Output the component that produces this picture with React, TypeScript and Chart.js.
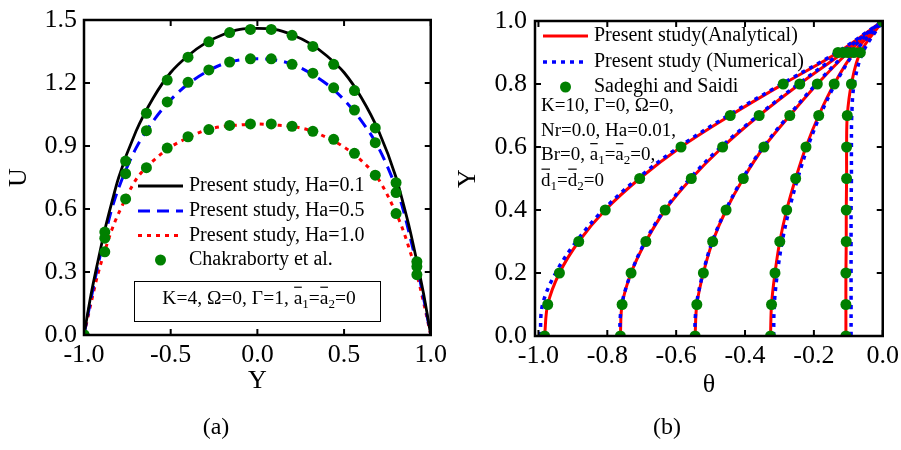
import React, { useEffect, useRef } from "react";
import { Chart, registerables } from "chart.js";

Chart.register(...registerables);

const SERIF = '"Liberation Serif", "Times New Roman", Times, serif';
const GREEN = "rgb(0,128,0)";

// ---------- Panel (a) data ----------
const ticksAX = [-1, -0.5, 0, 0.5, 1];
const ticksAY = [0, 0.3, 0.6, 0.9, 1.2, 1.5];
const labelsA = [
  "Present study, Ha=0.1",
  "Present study, Ha=0.5",
  "Present study, Ha=1.0",
  "Chakraborty et al.",
];
const lineY = [-1, -0.96, -0.92, -0.88, -0.84, -0.8, -0.7, -0.6, -0.5, -0.4, -0.3, -0.2, -0.1, 0, 0.1, 0.2, 0.3, 0.4, 0.5, 0.6, 0.7, 0.8, 0.84, 0.88, 0.92, 0.96, 1];
const uHa01 = [0, 0.19, 0.35, 0.5, 0.63, 0.75, 0.97, 1.13, 1.25, 1.33, 1.39, 1.43, 1.455, 1.46, 1.455, 1.43, 1.39, 1.33, 1.25, 1.13, 0.97, 0.75, 0.63, 0.5, 0.35, 0.19, 0];
const uHa05 = [0, 0.17, 0.33, 0.47, 0.6, 0.7, 0.89, 1.02, 1.12, 1.195, 1.25, 1.29, 1.31, 1.315, 1.31, 1.29, 1.25, 1.195, 1.12, 1.02, 0.89, 0.7, 0.6, 0.47, 0.33, 0.17, 0];
const uHa10 = [0, 0.15, 0.29, 0.4, 0.5, 0.58, 0.74, 0.83, 0.895, 0.94, 0.975, 0.993, 1.0, 1.005, 1.0, 0.993, 0.975, 0.94, 0.895, 0.83, 0.74, 0.58, 0.5, 0.4, 0.29, 0.15, 0];
const chakY = [-1, -0.88, -0.76, -0.64, -0.52, -0.4, -0.28, -0.16, -0.04, 0.08, 0.2, 0.32, 0.44, 0.56, 0.68, 0.8, 0.92];
const chakHa01 = [0, 0.49, 0.828, 1.056, 1.214, 1.323, 1.396, 1.44, 1.455, 1.455, 1.427, 1.374, 1.289, 1.164, 0.986, 0.725, 0.349];
const chakHa05 = [0, 0.461, 0.768, 0.973, 1.11, 1.203, 1.262, 1.3, 1.315, 1.315, 1.289, 1.247, 1.177, 1.071, 0.916, 0.678, 0.326];
const chakHa10 = [0, 0.396, 0.648, 0.797, 0.89, 0.944, 0.978, 0.998, 1.005, 1.005, 0.994, 0.97, 0.932, 0.865, 0.761, 0.578, 0.287];

// ---------- Panel (b) data ----------
const ticksBX = [-1, -0.8, -0.6, -0.4, -0.2, 0];
const ticksBY = [0, 0.2, 0.4, 0.6, 0.8, 1];
const labelsB = ["Present study(Analytical)", "Present study (Numerical)", "Sadeghi and Saidi"];
const bY = [0, 0.1, 0.2, 0.3, 0.4, 0.5, 0.6, 0.7, 0.8, 0.9, 1.0];
const anaTheta1 = [-0.982, -0.973, -0.939, -0.883, -0.806, -0.706, -0.586, -0.443, -0.289, -0.13, 0];
const anaTheta2 = [-0.762, -0.757, -0.731, -0.688, -0.632, -0.556, -0.465, -0.359, -0.241, -0.115, 0];
const anaTheta3 = [-0.545, -0.54, -0.521, -0.494, -0.455, -0.405, -0.345, -0.27, -0.19, -0.101, 0];
const anaTheta4 = [-0.326, -0.323, -0.313, -0.299, -0.279, -0.253, -0.223, -0.186, -0.141, -0.084, 0];
const anaTheta5 = [-0.107, -0.107, -0.107, -0.106, -0.106, -0.105, -0.105, -0.103, -0.091, -0.065, 0];
const numTheta1 = [-0.995, -0.988, -0.95, -0.89, -0.812, -0.712, -0.592, -0.449, -0.294, -0.134, 0];
const numTheta2 = [-0.765, -0.758, -0.731, -0.69, -0.634, -0.56, -0.47, -0.362, -0.245, -0.12, 0];
const numTheta3 = [-0.547, -0.541, -0.522, -0.495, -0.456, -0.407, -0.347, -0.273, -0.193, -0.104, 0];
const numTheta4 = [-0.317, -0.315, -0.306, -0.292, -0.272, -0.247, -0.218, -0.182, -0.138, -0.082, 0];
const numTheta5 = [-0.092, -0.092, -0.092, -0.092, -0.092, -0.091, -0.091, -0.09, -0.083, -0.058, 0];
const sadTheta1 = [-0.982, -0.973, -0.939, -0.883, -0.806, -0.706, -0.586, -0.443, -0.289, -0.13, 0];
const sadTheta2 = [-0.762, -0.757, -0.731, -0.688, -0.632, -0.556, -0.465, -0.359, -0.241, -0.115, 0];
const sadTheta3 = [-0.545, -0.54, -0.521, -0.494, -0.455, -0.405, -0.345, -0.27, -0.19, -0.101, 0];
const sadTheta4 = [-0.326, -0.323, -0.313, -0.299, -0.279, -0.253, -0.223, -0.186, -0.141, -0.084, 0];
const sadTheta5 = [-0.107, -0.107, -0.107, -0.106, -0.106, -0.105, -0.105, -0.103, -0.091, -0.065, 0];

const pts = (xs: number[], ys: number[]) => xs.map((x, i) => ({ x, y: ys[i] }));

type Seg = { t: string; bar?: boolean; sub?: boolean };

function drawRich(ctx: CanvasRenderingContext2D, segs: Seg[], x: number, y: number, size: number, align: "left" | "center") {
  const fontFor = (s: Seg) => `${s.sub ? Math.round(size * 0.68) : size}px ${SERIF}`;
  const widths = segs.map((s) => {
    ctx.font = fontFor(s);
    return ctx.measureText(s.t).width;
  });
  const total = widths.reduce((a, b) => a + b, 0);
  let cx = align === "center" ? x - total / 2 : x;
  ctx.textAlign = "left";
  ctx.textBaseline = "alphabetic";
  ctx.fillStyle = "#000";
  ctx.strokeStyle = "#000";
  segs.forEach((s, i) => {
    ctx.font = fontFor(s);
    ctx.fillText(s.t, cx, s.sub ? y + size * 0.22 : y);
    if (s.bar) {
      ctx.beginPath();
      ctx.lineWidth = 1.2;
      ctx.setLineDash([]);
      const by = y - size * 0.86;
      ctx.moveTo(cx + 0.5, by);
      ctx.lineTo(cx + widths[i] - 0.5, by);
      ctx.stroke();
    }
    cx += widths[i];
  });
}

const framePlugin = {
  id: "frameTicks",
  afterDatasetsDraw(chart: any) {
    const { ctx, chartArea } = chart;
    const { left, right, top, bottom } = chartArea;
    const xs = chart.scales.x;
    const ys = chart.scales.y;
    const L = 6;
    ctx.save();
    ctx.strokeStyle = "#000";
    ctx.setLineDash([]);
    ctx.lineWidth = 2;
    ctx.beginPath();
    xs.ticks.forEach((t: any) => {
      const px = xs.getPixelForValue(t.value);
      ctx.moveTo(px, bottom);
      ctx.lineTo(px, bottom - L);
      ctx.moveTo(px, top);
      ctx.lineTo(px, top + L);
    });
    ys.ticks.forEach((t: any) => {
      const py = ys.getPixelForValue(t.value);
      ctx.moveTo(left, py);
      ctx.lineTo(left + L, py);
      ctx.moveTo(right, py);
      ctx.lineTo(right - L, py);
    });
    ctx.stroke();
    ctx.lineWidth = 2.5;
    ctx.strokeRect(left, top, right - left, bottom - top);
    ctx.restore();
  },
};

function makeScale(o: { min: number; max: number; ticks: number[]; title: string; size: number; horizontal: boolean; titlePad: any; tickPad: number; lh: number }) {
  return {
    type: "linear" as const,
    min: o.min,
    max: o.max,
    afterBuildTicks: (s: any) => {
      s.ticks = o.ticks.map((v) => ({ value: v }));
    },
    afterFit: (s: any) => {
      if (o.horizontal) s.height = o.size;
      else s.width = o.size;
    },
    grid: { display: false, drawTicks: false },
    border: { display: false },
    ticks: {
      color: "#000",
      font: { family: SERIF, size: 26, lineHeight: o.lh },
      padding: o.tickPad,
      autoSkip: false,
      maxRotation: 0,
      callback: (v: any) => Number(v).toFixed(1),
    },
    title: {
      display: true,
      text: o.title,
      color: "#000",
      font: { family: SERIF, size: 26, lineHeight: 1.2 },
      padding: o.titlePad,
    },
  };
}

function drawLegendRow(ctx: CanvasRenderingContext2D, ds: any, label: string, x0: number, x1: number, tx: number, y: number) {
  ctx.save();
  if (ds.showLine === false) {
    ctx.beginPath();
    ctx.fillStyle = ds.backgroundColor;
    ctx.arc((x0 + x1) / 2, y, ds.pointRadius, 0, Math.PI * 2);
    ctx.fill();
  } else {
    ctx.beginPath();
    ctx.strokeStyle = ds.borderColor;
    ctx.lineWidth = ds.borderWidth;
    ctx.setLineDash(ds.borderDash || []);
    ctx.moveTo(x0, y);
    ctx.lineTo(x1, y);
    ctx.stroke();
  }
  ctx.setLineDash([]);
  ctx.fillStyle = "#000";
  ctx.font = `20px ${SERIF}`;
  ctx.textAlign = "left";
  ctx.textBaseline = "middle";
  ctx.fillText(label, tx, y);
  ctx.restore();
}

const extrasA = {
  id: "extrasA",
  afterDraw(chart: any) {
    const ctx: CanvasRenderingContext2D = chart.ctx;
    const d = chart.data.datasets;
    const rows = [
      { ds: d[1], y: 186 },
      { ds: d[2], y: 211 },
      { ds: d[3], y: 235.5 },
      { ds: d[0], y: 260 },
    ];
    rows.forEach((r) => drawLegendRow(ctx, r.ds, r.ds.label, 138, 183, 189, r.y));
    ctx.save();
    ctx.strokeStyle = "#000";
    ctx.lineWidth = 1;
    ctx.setLineDash([]);
    ctx.strokeRect(134.5, 281.5, 246, 40);
    drawRich(
      ctx,
      [{ t: "K=4, Ω=0, Γ=1, " }, { t: "a", bar: true }, { t: "1", sub: true }, { t: "=" }, { t: "a", bar: true }, { t: "2", sub: true }, { t: "=0" }],
      259,
      304,
      19.5,
      "center"
    );
    ctx.font = `24px ${SERIF}`;
    ctx.textAlign = "center";
    ctx.textBaseline = "middle";
    ctx.fillStyle = "#000";
    ctx.fillText("(a)", 216, 428);
    ctx.restore();
  },
};

const extrasB = {
  id: "extrasB",
  afterDraw(chart: any) {
    const ctx: CanvasRenderingContext2D = chart.ctx;
    const d = chart.data.datasets;
    const rows = [
      { ds: d[10], y: 36 },
      { ds: d[5], y: 62 },
      { ds: d[0], y: 87 },
    ];
    rows.forEach((r) => drawLegendRow(ctx, r.ds, r.ds.label, 93, 138, 144, r.y));
    ctx.save();
    const s = 19;
    drawRich(ctx, [{ t: "K=10, Γ=0, Ω=0," }], 91, 111, s, "left");
    drawRich(ctx, [{ t: "Nr=0.0, Ha=0.01," }], 91, 135.5, s, "left");
    drawRich(
      ctx,
      [{ t: "Br=0, " }, { t: "a", bar: true }, { t: "1", sub: true }, { t: "=" }, { t: "a", bar: true }, { t: "2", sub: true }, { t: "=0," }],
      91,
      160,
      s,
      "left"
    );
    drawRich(
      ctx,
      [{ t: "d", bar: true }, { t: "1", sub: true }, { t: "=" }, { t: "d", bar: true }, { t: "2", sub: true }, { t: "=0" }],
      91,
      185.5,
      s,
      "left"
    );
    ctx.font = `24px ${SERIF}`;
    ctx.textAlign = "center";
    ctx.textBaseline = "middle";
    ctx.fillStyle = "#000";
    ctx.fillText("(b)", 217, 428);
    ctx.restore();
  },
};

function buildA(): any {
  const lineBase = { pointRadius: 0, fill: false, clip: 0, cubicInterpolationMode: "monotone" };
  return {
    type: "line",
    data: {
      datasets: [
        {
          label: labelsA[3],
          data: [...pts(chakY, chakHa01), ...pts(chakY, chakHa05), ...pts(chakY, chakHa10)],
          showLine: false,
          pointRadius: 5.5,
          pointBorderWidth: 0,
          backgroundColor: GREEN,
          pointBackgroundColor: GREEN,
          borderColor: GREEN,
          clip: 0,
        },
        { ...lineBase, label: labelsA[0], data: pts(lineY, uHa01), borderColor: "#000", borderWidth: 2.8, borderDash: [] },
        { ...lineBase, label: labelsA[1], data: pts(lineY, uHa05), borderColor: "#0000ff", borderWidth: 3, borderDash: [12, 7] },
        { ...lineBase, label: labelsA[2], data: pts(lineY, uHa10), borderColor: "#ff0000", borderWidth: 3, borderDash: [4, 5] },
      ],
    },
    options: {
      animation: false,
      responsive: false,
      events: [],
      layout: { padding: { left: 0, top: 13, right: 19, bottom: 53 } },
      plugins: { legend: { display: false }, tooltip: { enabled: false } },
      scales: {
        x: makeScale({ min: -1, max: 1, ticks: ticksAX, title: "Y", size: 62, horizontal: true, titlePad: { top: 0, bottom: 0 }, tickPad: 3, lh: 1.3 }),
        y: makeScale({ min: 0, max: 1.5, ticks: ticksAY, title: "U", size: 84, horizontal: false, titlePad: { top: 4, bottom: 0 }, tickPad: 7, lh: 1 }),
      },
    },
    plugins: [framePlugin, extrasA],
  };
}

function buildB(): any {
  const sad = [sadTheta1, sadTheta2, sadTheta3, sadTheta4, sadTheta5];
  const num = [numTheta1, numTheta2, numTheta3, numTheta4, numTheta5];
  const ana = [anaTheta1, anaTheta2, anaTheta3, anaTheta4, anaTheta5];
  const dots = sad.map((t, i) => ({
    label: i === 0 ? labelsB[2] : "",
    data: pts(t, bY),
    showLine: false,
    pointRadius: 5.5,
    pointBorderWidth: 0,
    backgroundColor: GREEN,
    pointBackgroundColor: GREEN,
    borderColor: GREEN,
    clip: 0,
  }));
  const nums = num.map((t, i) => ({
    label: i === 0 ? labelsB[1] : "",
    data: pts(t, bY),
    pointRadius: 0,
    borderColor: "#0000ff",
    borderWidth: 3.5,
    borderDash: [4, 5],
    tension: 0.35,
    fill: false,
    clip: 0,
  }));
  const anas = ana.map((t, i) => ({
    label: i === 0 ? labelsB[0] : "",
    data: pts(t, bY),
    pointRadius: 0,
    borderColor: "#ff0000",
    borderWidth: 3,
    borderDash: [],
    tension: 0.35,
    fill: false,
    clip: 0,
  }));
  return {
    type: "line",
    data: { datasets: [...dots, ...nums, ...anas] },
    options: {
      animation: false,
      responsive: false,
      events: [],
      layout: { padding: { left: 0, top: 21, right: 18, bottom: 49 } },
      plugins: { legend: { display: false }, tooltip: { enabled: false } },
      scales: {
        x: makeScale({ min: -1.01, max: 0, ticks: ticksBX, title: "θ", size: 65, horizontal: true, titlePad: { top: 0, bottom: 0 }, tickPad: 2, lh: 1.38 }),
        y: makeScale({ min: 0, max: 1, ticks: ticksBY, title: "Y", size: 85, horizontal: false, titlePad: { top: 3, bottom: 0 }, tickPad: 8, lh: 1 }),
      },
    },
    plugins: [framePlugin, extrasB],
  };
}

export default function App() {
  const refA = useRef<HTMLCanvasElement>(null);
  const refB = useRef<HTMLCanvasElement>(null);
  useEffect(() => {
    const a = new Chart(refA.current as HTMLCanvasElement, buildA());
    const b = new Chart(refB.current as HTMLCanvasElement, buildB());
    return () => {
      a.destroy();
      b.destroy();
    };
  }, []);
  return (
    <div style={{ position: "absolute", left: 0, top: 0, width: 901, height: 450, background: "#fff" }}>
      <canvas ref={refA} width={450} height={450} style={{ position: "absolute", left: 0, top: 0, width: 450, height: 450 }} />
      <canvas ref={refB} width={451} height={450} style={{ position: "absolute", left: 450, top: 0, width: 451, height: 450 }} />
    </div>
  );
}
